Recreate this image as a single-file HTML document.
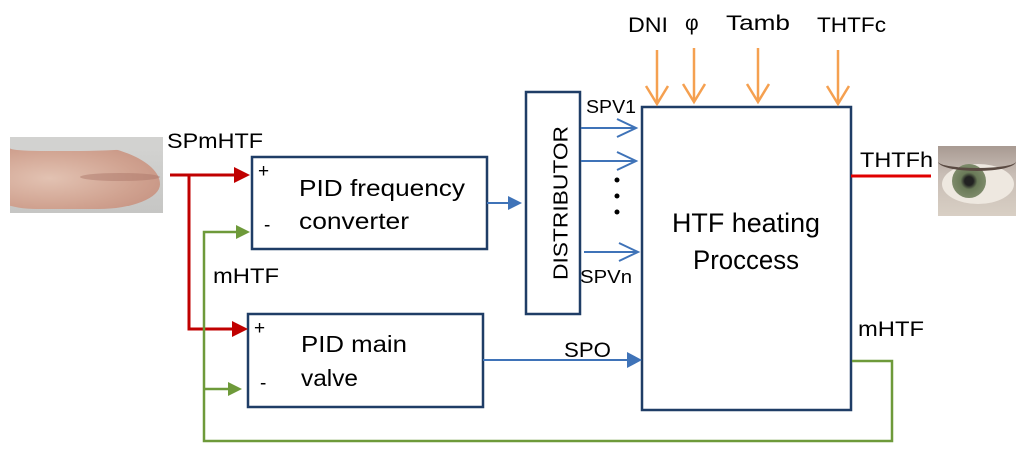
<!DOCTYPE html>
<html><head><meta charset="utf-8"><style>
html,body{margin:0;padding:0;background:#fff;}
body{width:1024px;height:454px;overflow:hidden;position:relative;font-family:"Liberation Sans",sans-serif;}
svg{position:absolute;left:0;top:0;}
.hand{position:absolute;left:10px;top:137px;width:153px;height:76px;background:linear-gradient(180deg,#d4d4d2,#c6c6c4);overflow:hidden;}
.hand div{position:absolute;}
.eye{position:absolute;left:938px;top:146px;width:78px;height:70px;background:linear-gradient(180deg,#a89a92,#c8bdb5 40%,#d8cfc4);overflow:hidden;}
</style></head><body>
<div class="hand">
  <div style="left:-20px;top:4px;width:170px;height:68px;border-radius:40% 70% 40% 30%;background:radial-gradient(ellipse at 35% 55%,#e2c2b2,#d0a290 55%,#c08a7a);"></div>
  <div style="left:70px;top:36px;width:80px;height:8px;border-radius:50%;background:#a87466;opacity:.45;"></div>
  <div style="left:0;top:0;width:153px;height:14px;background:#d2d2d0;border-radius:0 0 60% 20%;"></div>
</div>
<div class="eye">
  <div style="position:absolute;left:4px;top:18px;width:72px;height:40px;border-radius:50%;background:#eee8e0;"></div>
  <div style="position:absolute;left:14px;top:18px;width:34px;height:34px;border-radius:50%;background:radial-gradient(circle,#222 18%,#6a7a58 35%,#7d8a6a 70%,#556045);"></div>
  <div style="position:absolute;left:0;top:6px;width:78px;height:16px;border-radius:50%;border-bottom:3px solid #5a4a42;"></div>
</div>
<svg width="1024" height="454" viewBox="0 0 1024 454" font-family="Liberation Sans, sans-serif" fill="#000">
<g fill="none" stroke="#1f3d66" stroke-width="2.5">
<rect x="252" y="157" width="235" height="92"/>
<rect x="248" y="314" width="235" height="93"/>
<rect x="526" y="92" width="54" height="222"/>
<rect x="642" y="107" width="209" height="303"/>
</g>
<g stroke="#c00000" stroke-width="3" fill="none">
<polyline points="170,175 236,175"/>
<polyline points="189,175 189,329 236,329"/>
</g>
<path d="M234,167 L250,175 L234,183 z" fill="#c00000"/>
<path d="M232,321 L248,329 L232,337 z" fill="#c00000"/>
<line x1="851" y1="176" x2="931" y2="176" stroke="#e00000" stroke-width="3"/>
<g stroke="#6e9a3a" stroke-width="2.5" fill="none">
<polyline points="238,232 204,232 204,441 892,441 892,361 852,361"/>
<line x1="204" y1="389" x2="230" y2="389"/>
</g>
<path d="M236,225 L250,232 L236,239 z" fill="#6e9a3a"/>
<path d="M228,382 L242,389 L228,396 z" fill="#6e9a3a"/>
<g stroke="#3f73b8" stroke-width="2" fill="none">
<line x1="487" y1="203" x2="510" y2="203"/>
<line x1="483" y1="360" x2="628" y2="360"/>
<line x1="581" y1="128" x2="636" y2="128"/><polyline points="617,119 636,128 617,137"/>
<line x1="581" y1="161" x2="636" y2="161"/><polyline points="617,152 636,161 617,170"/>
<line x1="584" y1="252" x2="638" y2="252"/><polyline points="619,243 638,252 619,261"/>
</g>
<path d="M508,196 L522,203 L508,210 z" fill="#3f73b8"/>
<path d="M627,352 L642,360 L627,368 z" fill="#3f73b8"/>
<circle cx="617" cy="180" r="2.5"/><circle cx="617" cy="196" r="2.5"/><circle cx="617" cy="212" r="2.5"/>
<g stroke="#f5a050" stroke-width="2.5" fill="none">
<line x1="657" y1="50" x2="657" y2="104"/><polyline points="646,86 657,104 668,86"/>
<line x1="694" y1="48" x2="694" y2="102"/><polyline points="683,84 694,102 705,84"/>
<line x1="758" y1="48" x2="758" y2="102"/><polyline points="747,84 758,102 769,84"/>
<line x1="838" y1="50" x2="838" y2="104"/><polyline points="827,86 838,104 849,86"/>
</g>
<g font-size="21">
<text x="167" y="148" textLength="96" lengthAdjust="spacingAndGlyphs">SPmHTF</text>
<text x="213" y="283" textLength="66" lengthAdjust="spacingAndGlyphs">mHTF</text>
<text x="858" y="336" textLength="66" lengthAdjust="spacingAndGlyphs">mHTF</text>
<text x="860" y="167" textLength="73" lengthAdjust="spacingAndGlyphs">THTFh</text>
<text x="586" y="113" font-size="18" textLength="50" lengthAdjust="spacingAndGlyphs">SPV1</text>
<text x="580" y="283" font-size="18" textLength="52" lengthAdjust="spacingAndGlyphs">SPVn</text>
<text x="564" y="357" textLength="47" lengthAdjust="spacingAndGlyphs">SPO</text>
<text x="628" y="32" textLength="40" lengthAdjust="spacingAndGlyphs">DNI</text>
<text x="685" y="30">φ</text>
<text x="726" y="30" textLength="64" lengthAdjust="spacingAndGlyphs">Tamb</text>
<text x="817" y="32" textLength="69" lengthAdjust="spacingAndGlyphs">THTFc</text>
<text x="258" y="177" font-size="19">+</text>
<text x="254" y="334" font-size="19">+</text>
<text x="264" y="231" font-size="19">-</text>
<text x="260" y="389" font-size="19">-</text>
</g>
<g font-size="23">
<text x="299" y="196" textLength="166" lengthAdjust="spacingAndGlyphs">PID  frequency</text>
<text x="299" y="229" textLength="110" lengthAdjust="spacingAndGlyphs">converter</text>
<text x="301" y="352" textLength="106" lengthAdjust="spacingAndGlyphs">PID  main</text>
<text x="301" y="386" textLength="57" lengthAdjust="spacingAndGlyphs">valve</text>
</g>
<text x="672" y="232" font-size="27" textLength="148" lengthAdjust="spacingAndGlyphs">HTF heating</text>
<text x="693" y="269" font-size="27" textLength="106" lengthAdjust="spacingAndGlyphs">Proccess</text>
<text transform="translate(562,203) rotate(-90)" font-size="20" text-anchor="middle" dominant-baseline="middle" textLength="154" lengthAdjust="spacingAndGlyphs">DISTRIBUTOR</text>
</svg>
</body></html>
